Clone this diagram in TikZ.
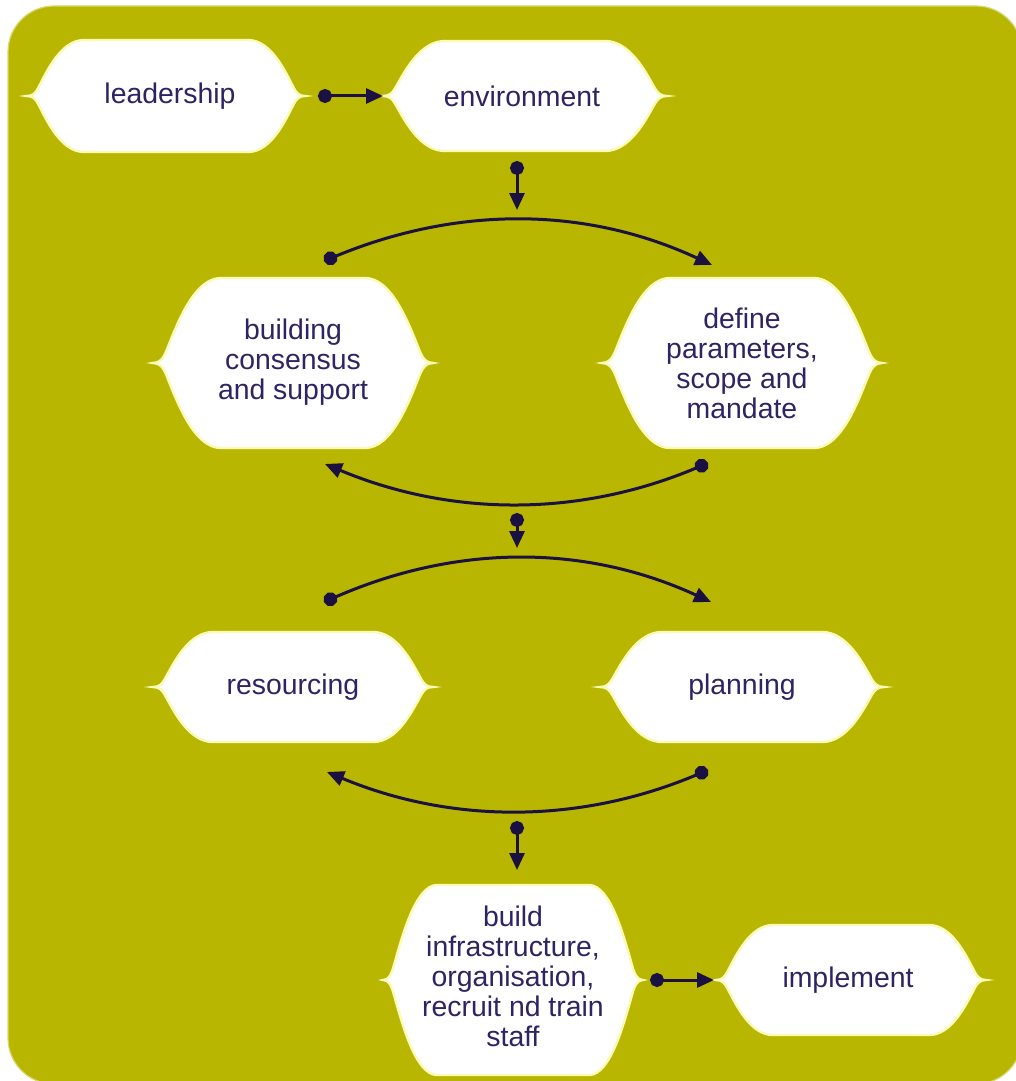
\documentclass[tikz,border=0pt]{standalone}
\usepackage{fontspec}
\setmainfont{Liberation Sans}
\usetikzlibrary{arrows.meta}
\definecolor{olivebg}{RGB}{184,182,0}
\definecolor{txtcol}{RGB}{46,36,100}
\definecolor{arrowcol}{RGB}{26,16,66}
\definecolor{glowcol}{RGB}{250,250,185}
% cx cy W(tip half-width) A(flat half-width) H(half-height)
\newcommand\leafshape[5]{%
  \begin{scope}[shift={(#1,#2)}]
  \pgfmathsetmacro\lW{#3}\pgfmathsetmacro\lA{#4}\pgfmathsetmacro\lH{#5}%
  \pgfmathsetmacro\pa{\lA+0.40*(\lW-\lA)}% shoulder control 1
  \pgfmathsetmacro\pb{\lA+0.65*(\lW-\lA)}% shoulder control 2
  \pgfmathsetmacro\pc{\lA+0.80*(\lW-\lA)}% joint x
  \pgfmathsetmacro\pd{\lA+0.85*(\lW-\lA)}% flare control 1
  \pgfmathsetmacro\pe{\lA+0.90*(\lW-\lA)}% flare control 2
  \pgfmathsetmacro\ya{0.45*\lH}\pgfmathsetmacro\yb{0.15*\lH}\pgfmathsetmacro\yc{0.05*\lH}%
  \path[leaf] (-\lA,-\lH) -- (\lA,-\lH)
    .. controls (\pa,-\lH) and (\pb,-\ya) .. (\pc,-\yb)
    .. controls (\pd,-\yc) and (\pe,0) .. (\lW,0)
    .. controls (\pe,0) and (\pd,\yc) .. (\pc,\yb)
    .. controls (\pb,\ya) and (\pa,\lH) .. (\lA,\lH)
    -- (-\lA,\lH)
    .. controls (-\pa,\lH) and (-\pb,\ya) .. (-\pc,\yb)
    .. controls (-\pd,\yc) and (-\pe,0) .. (-\lW,0)
    .. controls (-\pe,0) and (-\pd,-\yc) .. (-\pc,-\yb)
    .. controls (-\pb,-\ya) and (-\pa,-\lH) .. cycle;
  \end{scope}}
\begin{document}
\begin{tikzpicture}[x=0.5pt,y=-0.5pt,
  leaf/.style={fill=white, draw=glowcol, line width=1.2pt},
  lbl/.style={text=txtcol, align=center, inner sep=0pt,
    font=\fontsize{14.2pt}{15pt}\selectfont},
  link/.style={draw=arrowcol, line width=1.5pt,
    {Circle[length=7pt,color=arrowcol]}-{Triangle[length=8.5pt,width=7.5pt,color=arrowcol]}}]
\useasboundingbox (0,0) rectangle (1016,1081);
\clip (0,0) rectangle (1016,1081);
\path[fill=olivebg, draw=olivebg!55!white, line width=0.6pt, rounded corners=23pt]
  (8,6) rectangle (1022,1084);

% shapes
\leafshape{166}{96}{139}{82}{56}
\leafshape{525}{96}{142}{80}{55}
\leafshape{293}{363}{140}{72}{85}
\leafshape{742}{363}{140}{72}{85}
\leafshape{293}{687}{140}{80}{55}
\leafshape{742}{687}{142}{80}{55}
\leafshape{513}{980}{130}{76}{95}
\leafshape{851}{980}{135}{78}{55}

% labels
\node[lbl] (lead) at (170,96) {leadership};
\node[lbl] (env) at (522,96) {environment};
\node[lbl] (bc) at (293,362) {building\\consensus\\and support};
\node[lbl] (dp) at (742,363) {define\\parameters,\\scope and\\mandate};
\node[lbl] (res) at (293,687) {resourcing};
\node[lbl] (plan) at (742,687) {planning};
\node[lbl] (bi) at (513,976) {build\\infrastructure,\\organisation,\\recruit nd train\\staff};
\node[lbl] (imp) at (848,980) {implement};

% connector end points
\coordinate (a1) at (318,96);  \coordinate (b1) at (383,96);
\coordinate (a2) at (517,161); \coordinate (b2) at (517,210);
\coordinate (a3) at (324,261); \coordinate (b3) at (712,265);
\coordinate (a4) at (708,463); \coordinate (b4) at (325,464);
\coordinate (a5) at (517,513); \coordinate (b5) at (517,548);
\coordinate (a6) at (324,602); \coordinate (b6) at (711,602);
\coordinate (a7) at (708,770); \coordinate (b7) at (327,772);
\coordinate (a8) at (517,821); \coordinate (b8) at (517,870);
\coordinate (a9) at (650,980); \coordinate (b9) at (714,980);

\draw[link] (a1) -- (b1);
\draw[link] (a2) -- (b2);
\draw[link] (a3) .. controls (457,206) and (585,206) .. (b3);
\draw[link] (a4) .. controls (580,517) and (452,517) .. (b4);
\draw[link] (a5) -- (b5);
\draw[link] (a6) .. controls (457,544) and (585,544) .. (b6);
\draw[link] (a7) .. controls (580,824) and (452,824) .. (b7);
\draw[link] (a8) -- (b8);
\draw[link] (a9) -- (b9);
\end{tikzpicture}
\end{document}
